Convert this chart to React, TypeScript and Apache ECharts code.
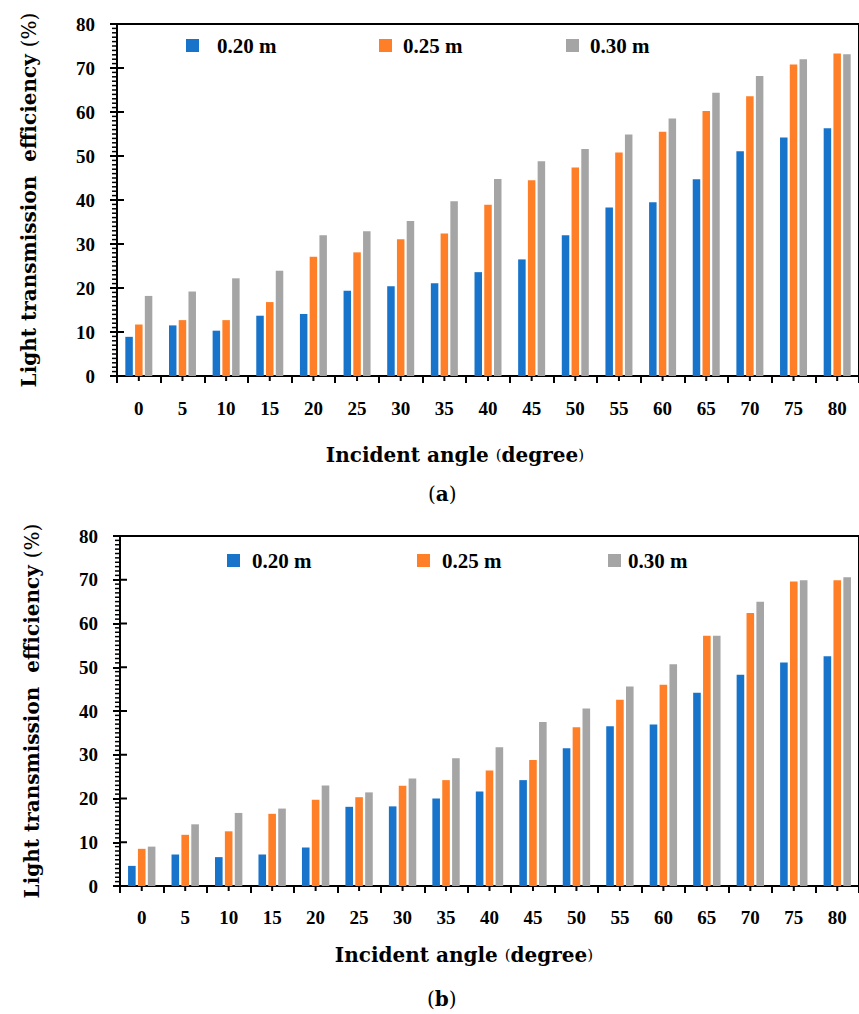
import React, { useEffect, useRef } from "react";
import * as echarts from "echarts";

const categories = ["0", "5", "10", "15", "20", "25", "30", "35", "40", "45", "50", "55", "60", "65", "70", "75", "80"];
const seriesNames = ["0.20 m", "0.25 m", "0.30 m"];
const colors = ["#1874CA", "#FE7F27", "#A5A5A5"];

const topBlue = [8.9, 11.5, 10.3, 13.7, 14.1, 19.4, 20.4, 21.1, 23.6, 26.5, 32.0, 38.3, 39.5, 44.7, 51.1, 54.2, 56.3];
const topOrange = [11.7, 12.7, 12.7, 16.8, 27.1, 28.1, 31.1, 32.4, 38.9, 44.5, 47.4, 50.8, 55.5, 60.2, 63.6, 70.8, 73.3];
const topGray = [18.2, 19.2, 22.2, 23.9, 32.0, 32.9, 35.2, 39.7, 44.8, 48.8, 51.6, 54.9, 58.5, 64.4, 68.2, 72.0, 73.1];

const botBlue = [4.6, 7.2, 6.6, 7.2, 8.8, 18.1, 18.2, 20.0, 21.6, 24.2, 31.5, 36.5, 36.9, 44.2, 48.3, 51.1, 52.5];
const botOrange = [8.5, 11.7, 12.5, 16.5, 19.7, 20.3, 22.9, 24.2, 26.4, 28.8, 36.3, 42.6, 46.0, 57.2, 62.4, 69.6, 69.9];
const botGray = [9.0, 14.1, 16.7, 17.7, 23.0, 21.4, 24.6, 29.2, 31.7, 37.5, 40.6, 45.6, 50.7, 57.2, 65.0, 69.9, 70.6];

// y-axis tick values (minor every 1 %, major every 10 %)
const yTickValues: number[] = [];
for (let v = 0; v <= 80; v += 1) yTickValues.push(v);

const NUM_FONT = "Liberation Serif";
const NAME_FONT = "DejaVu Serif";

function mainX(gridIndex: number, namePadRight: number, nameGap: number, labelMargin: number) {
  return {
    type: "category",
    gridIndex,
    position: "bottom",
    data: categories,
    axisLine: { show: true, lineStyle: { color: "#000", width: 2 } },
    axisTick: { show: true, alignWithLabel: false, length: 7, interval: 0, lineStyle: { color: "#000", width: 2 } },
    axisLabel: { interval: 0, margin: labelMargin, color: "#000", fontFamily: NUM_FONT, fontWeight: "bold", fontSize: 19 },
    splitLine: { show: false },
    name: "Incident angle {p|(}degree{p|)}",
    nameLocation: "middle",
    nameGap,
    nameTextStyle: {
      color: "#000",
      fontFamily: NAME_FONT,
      fontWeight: "bold",
      fontSize: 20,
      lineHeight: 22,
      padding: [0, namePadRight, 0, 0],
      rich: { p: { fontFamily: NAME_FONT, fontWeight: "normal", fontSize: 15, color: "#000" } },
    },
  };
}

function mainY(gridIndex: number, nameGap: number) {
  return {
    type: "value",
    gridIndex,
    position: "left",
    min: 0,
    max: 80,
    interval: 10,
    axisLine: { show: true, lineStyle: { color: "#000", width: 2 } },
    axisTick: { show: true, length: 7, lineStyle: { color: "#000", width: 2 } },
    axisLabel: { margin: 22, color: "#000", fontFamily: NUM_FONT, fontWeight: "bold", fontSize: 19 },
    splitLine: { show: false },
    name: "Light transmission  efficiency {p|(%)}",
    nameLocation: "middle",
    nameGap,
    nameTextStyle: {
      color: "#000",
      fontFamily: NAME_FONT,
      fontWeight: "bold",
      fontSize: 20,
      rich: { p: { fontFamily: NAME_FONT, fontWeight: "normal", fontSize: 20, color: "#000" } },
    },
  };
}

function legendItem(name: string, left: number, top: number, gap: number) {
  return {
    data: [name],
    left,
    top,
    padding: 0,
    icon: "rect",
    itemWidth: 13,
    itemHeight: 13,
    selectedMode: false,
    textStyle: {
      color: "#000",
      fontFamily: NUM_FONT,
      fontWeight: "bold",
      fontSize: 21,
      lineHeight: 20,
      padding: [0, 0, 0, gap],
    },
  };
}

function barSeries(name: string, data: number[], color: string, axisIndex: number, width: number) {
  return {
    type: "bar",
    name,
    data,
    xAxisIndex: axisIndex,
    yAxisIndex: axisIndex,
    barWidth: width,
    barGap: "30%",
    itemStyle: { color },
  };
}

// y minor ticks (outside) and major ticks (inside), placed through the axes' scales
function yTickSeries(axisIndex: number) {
  return {
    type: "custom",
    xAxisIndex: axisIndex,
    yAxisIndex: axisIndex,
    clip: false,
    silent: true,
    z: 5,
    data: yTickValues.map((v) => [0, v]),
    renderItem: (params: any, api: any) => {
      const v = api.value(1);
      const p = api.coord([0, v]);
      const band = api.size([1, 0])[0];
      const ax = p[0] - band / 2;
      const y = p[1];
      const major = v % 10 === 0;
      return major
        ? { type: "line", shape: { x1: ax, y1: y, x2: ax + 7, y2: y }, style: { stroke: "#000", lineWidth: 2 } }
        : { type: "line", shape: { x1: ax - 5, y1: y, x2: ax, y2: y }, style: { stroke: "#000", lineWidth: 1.5 } };
    },
  };
}

// x ticks at category centres
function xTickSeries(axisIndex: number) {
  return {
    type: "custom",
    xAxisIndex: axisIndex,
    yAxisIndex: axisIndex,
    clip: false,
    silent: true,
    z: 5,
    data: categories.map((_, i) => [i, 0]),
    renderItem: (params: any, api: any) => {
      const p = api.coord([api.value(0), 0]);
      return { type: "line", shape: { x1: p[0], y1: p[1], x2: p[0], y2: p[1] + 5 }, style: { stroke: "#000", lineWidth: 2 } };
    },
  };
}

export default function App() {
  const ref = useRef<HTMLDivElement>(null);

  useEffect(() => {
    if (!ref.current) return;
    const chart = echarts.init(ref.current, null, { renderer: "svg" });
    const option = {
      animation: false,
      backgroundColor: "#fff",
      color: colors,
      grid: [
        { left: 117, top: 24, right: -8, bottom: 638, show: true, borderColor: "#000", borderWidth: 2 },
        { left: 120, top: 536, right: -8, bottom: 128, show: true, borderColor: "#000", borderWidth: 2 },
      ],
      xAxis: [mainX(0, 66, 68, 23), mainX(1, 51, 58, 22)],
      yAxis: [mainY(0, 78), mainY(1, 78)],
      legend: [
        legendItem(seriesNames[0], 186, 35, 13),
        legendItem(seriesNames[1], 379, 35, 6),
        legendItem(seriesNames[2], 566, 35, 6),
        legendItem(seriesNames[0], 227, 550, 7),
        legendItem(seriesNames[1], 417, 550, 7),
        legendItem(seriesNames[2], 608, 550, 2),
      ],
      series: [
        barSeries(seriesNames[0], topBlue, colors[0], 0, 7.5),
        barSeries(seriesNames[1], topOrange, colors[1], 0, 7.5),
        barSeries(seriesNames[2], topGray, colors[2], 0, 7.5),
        barSeries(seriesNames[0], botBlue, colors[0], 1, 7.6),
        barSeries(seriesNames[1], botOrange, colors[1], 1, 7.6),
        barSeries(seriesNames[2], botGray, colors[2], 1, 7.6),
        yTickSeries(0),
        yTickSeries(1),
        xTickSeries(0),
        xTickSeries(1),
      ],
      graphic: [
        {
          type: "text",
          left: 443 - 15,
          top: 484,
          style: {
            text: "({b|a})",
            fontFamily: NAME_FONT,
            fontSize: 20,
            fill: "#000",
            rich: { b: { fontFamily: NAME_FONT, fontWeight: "bold", fontSize: 20, fill: "#000" } },
          },
        },
        {
          type: "text",
          left: 442 - 15,
          top: 989,
          style: {
            text: "({b|b})",
            fontFamily: NAME_FONT,
            fontSize: 20,
            fill: "#000",
            rich: { b: { fontFamily: NAME_FONT, fontWeight: "bold", fontSize: 20, fill: "#000" } },
          },
        },
      ],
    };
    chart.setOption(option as any);
    return () => {
      chart.dispose();
    };
  }, []);

  return (
    <div
      ref={ref}
      style={{ position: "absolute", left: 0, top: 0, width: 859, height: 1014, background: "#fff" }}
    />
  );
}
